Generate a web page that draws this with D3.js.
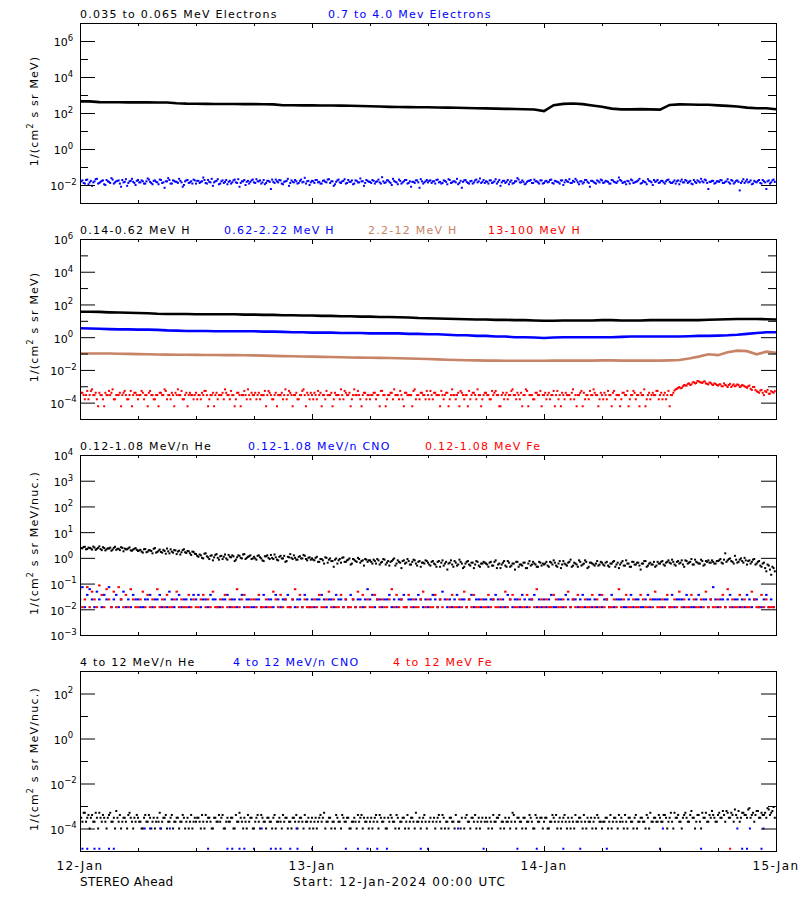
<!DOCTYPE html>
<html><head><meta charset="utf-8">
<script src="https://cdn.jsdelivr.net/npm/d3@7"></script>
<style>body{margin:0;background:#fff}svg{display:block}</style>
</head><body>
<svg id="chart" width="800" height="900"></svg>
<script>
// ================= DATA =================
const startDate = Date.UTC(2024, 0, 12);
const endDate = Date.UTC(2024, 0, 15);
const dateTickLabels = ["12-Jan", "13-Jan", "14-Jan", "15-Jan"];
const footerLeft = "STEREO Ahead";
const footerCenter = "Start: 12-Jan-2024 00:00 UTC";

const panel1Titles = ["0.035 to 0.065 MeV Electrons", "0.7 to 4.0 Mev Electrons"];
const panel2Titles = ["0.14-0.62 MeV H", "0.62-2.22 MeV H", "2.2-12 MeV H", "13-100 MeV H"];
const panel3Titles = ["0.12-1.08 MeV/n He", "0.12-1.08 MeV/n CNO", "0.12-1.08 MeV Fe"];
const panel4Titles = ["4 to 12 MeV/n He", "4 to 12 MeV/n CNO", "4 to 12 MeV Fe"];

// hourly values (73 points, 12-Jan 00:00 .. 15-Jan 00:00)
const electronsLow = [440,440,400,395,392,390,390,388,385,382,350,330,325,320,318,316,315,312,310,305,300,270,268,266,
  265,262,260,258,255,245,235,228,220,215,213,210,207,203,200,195,190,185,180,175,170,167,163,158,
  128,270,320,340,310,260,220,175,160,160,165,160,155,280,300,295,290,285,265,250,230,200,185,185,160];
const protonsLow = [36,36,35,33,32,31,30,29,27,26,26,26,25,25,25,25,25,24,24,23,23,22,22,21,21,20,20,19,19,18,
  18,17,17,16.5,16,15,14.5,14,13.5,13,12.5,12,12,11.5,11.5,11,11,10.5,10,10,10.5,10.5,10.5,10.5,11,11,10.5,
  10.5,10.5,11,11,11,11,11,11,11.5,12,12.5,13,13,13,12.5,12];
const protonsMid = [3.5,3.4,3.3,3.1,3.0,3.0,2.9,2.9,2.8,2.6,2.5,2.4,2.4,2.4,2.3,2.3,2.3,2.3,2.3,2.2,2.2,2.1,2.0,2.0,
  1.9,1.9,1.9,1.8,1.8,1.8,1.7,1.7,1.7,1.7,1.6,1.6,1.5,1.5,1.4,1.3,1.3,1.2,1.2,1.1,1.1,1.0,1.0,0.95,0.9,0.95,
  1.0,1.0,1.0,1.0,1.0,1.0,1.05,1.1,1.1,1.1,1.1,1.1,1.1,1.15,1.2,1.2,1.25,1.3,1.4,1.6,1.8,2.0,2.0];
const protonsHigh = [0.10,0.10,0.10,0.10,0.098,0.095,0.092,0.09,0.088,0.086,0.085,0.084,0.083,0.082,0.081,0.08,0.08,
  0.079,0.077,0.075,0.072,0.07,0.068,0.066,0.065,0.063,0.061,0.059,0.057,0.056,0.055,0.054,0.053,0.052,0.05,0.048,
  0.046,0.044,0.042,0.04,0.039,0.038,0.037,0.037,0.036,0.036,0.036,0.036,0.036,0.037,0.037,0.037,0.037,0.037,0.038,
  0.038,0.037,0.037,0.037,0.037,0.037,0.038,0.04,0.05,0.065,0.09,0.08,0.12,0.15,0.14,0.09,0.13,0.11];

// 15-minute values (288 points, on the quarter hour) and the samples between them (...Mid, at +7.5 min)
const electronsHighUnit = 1e-3;
const electronsHigh = [
 15,18,12,20,14,9,16,22,13,17,11,19,15,24,12,16,18,8,14,21,13,17,15,10,
 19,14,16,12,23,15,11,18,14,20,13,7,16,19,12,17,15,22,14,10,18,13,16,20,
 12,17,15,26,13,19,14,9,16,21,12,18,15,11,17,14,20,13,8,16,19,15,12,18,
 14,21,16,12,19,13,17,6,15,20,14,18,11,16,22,13,15,19,12,17,14,25,16,10,
 17,13,19,15,12,18,14,21,16,9,15,20,13,17,12,19,15,11,18,14,23,16,13,17,
 15,19,12,16,14,27,13,18,15,10,17,14,20,12,16,19,13,8,15,18,14,21,12,16,
 14,18,16,12,20,15,13,17,11,19,14,16,22,13,7,18,15,12,17,14,20,16,13,19,
 16,12,18,14,21,15,9,17,13,19,15,12,16,24,14,18,11,15,17,13,20,16,12,18,
 13,17,15,20,12,16,14,18,10,19,15,13,17,22,14,16,12,19,15,8,17,13,18,14,
 18,14,16,12,19,15,13,26,17,14,11,16,20,13,15,18,12,17,14,21,16,10,15,19,
 14,17,12,19,15,13,18,16,11,20,14,17,15,12,19,13,16,22,14,18,6,15,17,13,
 16,19,13,15,21,12,17,14,18,5,16,13,20,15,11,17,14,19,12,16,6,18,14,20];
const electronsHighMid = [
 16,13,19,11,17,14,21,12,15,18,10,16,13,20,14,17,12,19,15,9,16,22,13,17,
 14,18,12,16,20,13,17,15,11,19,14,16,24,12,18,15,13,17,8,16,19,14,12,18,
 17,13,16,19,12,15,22,14,17,11,16,13,19,15,12,18,14,21,13,16,10,17,15,20,
 13,16,18,14,11,17,15,20,13,16,19,12,15,17,9,18,14,16,13,20,15,12,17,14,
 16,19,14,12,17,15,20,13,16,11,18,14,16,21,13,15,18,12,17,14,16,9,19,15,
 13,17,15,20,12,16,14,18,13,22,15,11,17,14,19,12,16,15,13,18,7,16,14,19,
 17,13,16,19,14,12,18,15,21,13,16,14,11,17,15,19,13,16,12,18,14,23,15,13,
 15,18,13,16,12,19,14,17,15,11,18,13,16,20,14,15,12,17,19,13,16,14,18,12,
 16,14,19,13,17,15,12,18,14,16,21,13,15,18,11,16,14,19,13,17,15,12,16,20,
 13,17,15,12,18,14,16,19,13,15,17,12,18,14,16,22,13,15,11,17,14,19,16,13,
 17,14,16,20,13,15,12,18,16,14,19,13,17,11,15,18,14,16,20,13,15,17,12,16,
 15,18,13,16,14,19,12,17,15,13,21,16,14,18,12,15,17,13,19,14,16,12,18,15];

const protonsVeryHighUnit = 1e-5;
const protonsVeryHigh = [
 29,40,16,52,29,65,29,16,40,29,6,29,52,40,16,29,29,6,40,29,16,52,29,40,
 16,29,40,29,6,52,29,16,29,40,29,65,16,29,40,6,29,29,52,16,40,29,29,16,
 40,29,16,29,52,6,29,40,29,16,29,40,65,29,16,29,6,40,29,29,52,16,29,40,
 29,16,40,29,29,6,52,29,16,40,29,29,16,65,29,40,6,29,16,29,52,29,40,16,
 29,40,16,29,6,29,52,29,40,16,29,29,65,16,40,29,6,29,29,52,16,29,40,29,
 16,29,40,29,6,52,29,16,29,40,65,29,16,29,6,40,29,29,52,16,29,40,29,16,
 29,52,16,40,29,6,29,29,40,16,65,29,29,6,40,16,29,52,29,40,16,29,6,29,
 40,29,16,29,52,29,6,40,29,16,29,65,29,40,16,6,29,52,29,29,16,40,29,6,
 29,16,40,29,52,29,16,6,29,40,29,16,65,29,29,40,6,16,29,52,29,40,29,16,
 29,40,16,29,6,52,29,29,16,40,29,6,29,52,16,29,40,29,6,29,16,40,29,52,
 29,16,40,29,6,29,55,70,90,80,120,110,150,130,180,160,200,170,190,150,130,160,120,140,
 110,130,100,120,90,140,110,100,130,90,120,100,80,110,60,90,50,40,60,29,45,35,50,40];
const protonsVeryHighMid = [
 40,29,29,16,52,29,40,6,29,16,40,29,29,65,16,29,40,29,52,16,29,6,40,29,
 29,52,16,29,40,29,16,29,6,40,29,52,29,16,29,40,65,29,16,29,6,40,29,29,
 16,29,40,52,29,16,29,6,40,29,29,16,40,29,52,29,16,40,6,29,29,65,16,29,
 40,29,16,29,52,29,40,16,29,6,29,40,29,16,52,29,29,40,16,29,65,6,29,40,
 16,29,52,40,29,16,29,29,6,40,29,16,29,52,29,40,16,65,29,29,6,40,16,29,
 29,40,16,29,52,29,6,29,40,16,29,29,52,16,40,29,29,6,65,29,16,40,29,52,
 16,29,40,29,29,52,16,40,6,29,29,16,40,52,29,29,6,16,40,29,65,29,16,40,
 29,16,52,40,29,6,29,16,40,29,52,29,16,29,40,29,65,6,29,16,40,29,52,29,
 40,29,16,29,6,52,29,40,16,29,29,40,16,6,29,52,40,29,16,29,65,29,6,40,
 16,29,52,29,40,16,29,6,40,29,52,16,29,40,29,6,29,65,16,40,29,29,52,16,
 40,29,16,52,29,40,65,80,75,100,110,140,120,170,150,210,180,160,200,140,170,130,150,120,
 130,100,150,110,120,90,130,110,120,100,110,90,100,70,90,60,45,55,40,50,60,35,45,50];

const heliumLowUnit = 1e-2;
const heliumLow = [
 260,235,270,220,245,210,250,225,280,200,240,215,230,190,245,205,225,260,180,215,235,195,210,240,
 185,205,160,220,175,195,150,240,170,210,160,185,230,150,175,200,140,190,165,215,155,180,130,170,
 140,110,125,95,150,105,120,80,130,100,115,90,135,85,110,125,75,105,120,95,140,100,115,90,
 110,85,125,95,75,115,100,130,90,105,80,120,95,70,110,140,90,100,85,115,95,120,80,105,
 95,80,110,70,90,60,100,85,75,45,95,80,65,105,70,85,55,90,75,100,65,80,90,70,
 80,60,75,90,55,70,85,65,50,75,95,60,70,40,80,65,75,55,85,60,70,45,65,80,
 65,50,75,55,70,45,80,60,35,65,55,75,50,85,60,45,70,55,65,40,75,50,60,70,
 60,45,70,50,80,55,40,65,50,75,45,60,35,70,55,50,65,40,75,55,60,45,70,50,
 55,70,45,65,80,50,60,40,75,55,65,85,50,60,45,70,55,80,40,65,60,50,75,55,
 65,50,70,45,60,75,55,40,65,50,80,60,45,70,55,65,35,60,75,50,65,55,45,70,
 60,75,50,70,65,85,55,70,60,80,45,75,65,90,55,70,60,85,50,75,80,65,70,60,
 75,90,60,150,80,95,70,120,65,85,75,100,55,80,70,90,60,75,45,65,30,50,22,40];
const heliumLowMid = [
 240,265,215,250,230,275,205,245,220,260,195,235,250,210,270,225,200,245,230,215,255,190,225,205,
 195,175,215,165,200,185,225,160,190,170,205,145,180,215,160,195,175,135,200,165,185,150,175,145,
 120,135,100,145,115,90,125,105,140,85,120,110,95,130,105,115,85,125,100,135,90,110,125,95,
 95,120,105,80,115,125,90,100,135,85,110,95,120,75,105,100,125,85,110,95,130,90,100,85,
 85,100,70,90,80,105,65,95,75,85,60,90,100,70,80,95,60,85,70,90,75,50,85,80,
 70,85,60,80,65,90,55,75,70,85,50,80,65,75,60,90,55,70,80,50,75,65,60,75,
 55,70,60,45,75,65,50,70,60,80,45,65,55,70,40,60,75,50,65,55,70,45,60,65,
 55,65,50,70,40,60,55,75,45,65,50,60,70,45,55,65,40,60,50,70,55,45,65,60,
 60,50,70,55,65,45,75,55,60,50,70,45,65,55,80,50,60,70,45,65,55,60,50,70,
 55,65,50,60,70,45,65,55,75,50,60,45,70,55,65,50,60,75,45,60,55,70,50,60,
 70,55,65,80,60,70,50,75,65,55,80,60,70,55,85,65,60,75,55,70,65,80,60,75,
 80,65,85,70,90,75,60,85,70,95,65,80,75,60,85,55,70,50,60,40,55,35,45,30];

const cnoLowUnit = 0.0121;
const cnoLowCounts = [
 2,6,1,3,5,2,1,4,2,1,3,2,6,1,2,3,1,2,4,1,2,1,3,2,
 2,1,1,2,2,3,1,2,2,3,1,2,1,4,2,1,2,3,1,2,2,1,2,3,
 2,3,1,2,2,1,3,2,2,1,1,2,2,3,1,2,2,1,2,3,1,2,2,1,
 1,2,2,1,3,1,2,2,1,3,2,1,2,2,3,1,2,1,2,2,1,3,2,1,
 2,1,2,2,3,2,1,2,2,1,3,2,2,1,2,1,3,2,1,2,2,1,2,5,
 2,3,1,2,2,1,2,2,3,1,2,1,2,2,3,1,2,2,1,2,3,2,1,2,
 1,2,3,2,1,2,4,2,1,2,1,2,3,1,2,2,1,2,3,1,2,2,1,2,
 2,1,2,2,3,2,1,2,1,3,2,1,2,2,1,3,2,1,2,2,3,1,2,1,
 2,1,2,3,1,1,2,2,1,3,2,1,2,2,1,2,3,1,2,2,1,2,1,3,
 1,2,2,1,3,1,2,2,2,1,1,2,3,1,2,2,1,1,2,3,1,2,2,2,
 2,1,2,2,1,3,1,2,2,2,1,3,2,1,1,2,3,1,2,2,1,2,6,2,
 1,2,2,1,2,3,1,2,2,1,2,1,3,2,1,2,2,1,1,2,3,1,2,1];

const feLowUnit = 0.0121;
const feLowCounts = [
 5,1,2,6,1,4,2,1,7,3,1,5,2,1,4,1,6,2,1,3,1,5,2,1,
 1,2,4,1,3,1,2,1,5,1,2,1,3,1,1,2,4,1,2,1,1,3,1,2,
 1,1,2,3,1,2,1,4,1,1,2,1,3,1,2,1,1,5,1,2,3,1,1,2,
 2,1,3,1,1,2,1,1,4,2,1,3,1,2,1,1,2,5,1,3,1,2,1,1,
 1,2,1,3,1,1,2,4,1,2,1,1,3,1,2,1,1,2,1,4,1,3,1,2,
 1,1,3,2,1,2,1,1,2,5,1,3,1,2,1,1,3,1,2,1,1,2,4,1,
 2,1,1,3,1,2,1,0,2,1,3,1,1,2,1,4,1,2,1,3,1,1,2,1,
 1,3,1,2,1,1,2,1,4,1,2,3,1,1,2,1,1,3,1,2,1,5,1,2,
 1,2,1,1,3,2,1,1,2,1,4,1,2,1,3,1,1,2,1,1,3,1,2,1,
 3,1,2,1,1,2,1,5,1,2,3,1,1,2,1,1,3,2,1,1,2,1,4,1,
 1,2,1,3,1,1,2,1,4,1,2,1,1,3,2,1,1,2,1,4,1,2,1,1,
 2,1,3,1,5,1,2,1,1,3,1,2,1,1,4,2,1,1,3,1,2,1,1,1];

const heliumHighUnit = 1e-4;
const heliumHighCounts = [
 4,2,5,3,1,4,2,3,5,2,3,1,4,2,3,6,2,1,3,2,4,3,1,2,
 3,2,1,4,2,3,2,1,3,5,2,3,1,2,4,2,3,1,2,3,2,1,4,2,
 2,3,1,2,4,3,2,1,3,2,2,4,1,3,2,3,1,2,5,2,3,1,2,3,
 1,3,2,4,2,1,3,2,3,1,2,2,4,3,1,2,3,2,1,3,2,4,2,1,
 3,2,1,3,2,5,2,3,1,2,4,2,1,3,2,3,1,2,2,4,3,1,2,3,
 2,1,3,2,4,2,3,1,2,3,2,4,1,2,3,2,1,3,2,5,2,1,3,2,
 0,3,2,1,3,2,4,1,2,3,2,1,0,2,3,1,4,2,3,2,1,3,2,0,
 3,1,2,4,2,3,1,2,3,2,1,5,2,3,2,1,3,2,4,2,1,3,2,3,
 2,3,1,2,3,4,2,1,3,2,3,1,2,4,2,3,1,2,3,2,1,3,4,2,
 1,2,3,2,1,3,2,4,3,1,2,3,2,1,4,2,3,2,1,3,5,2,3,2,
 3,2,4,1,3,2,5,3,2,1,4,3,2,6,3,2,4,1,3,5,2,3,4,2,
 4,3,6,2,5,3,4,7,3,2,5,4,3,8,4,2,6,3,5,4,3,7,5,9];
const heliumHighCountsMid = [
 3,5,2,4,3,2,5,1,3,4,2,3,5,2,1,3,4,2,3,1,5,2,3,4,
 2,1,3,2,4,1,3,2,2,1,3,4,2,3,1,2,3,2,4,1,3,2,1,3,
 3,2,4,1,2,3,1,3,2,4,3,1,2,2,3,1,4,2,3,1,2,4,3,1,
 2,4,1,3,2,3,2,1,4,2,3,1,2,3,2,1,3,4,2,3,1,2,3,2,
 1,3,2,4,3,1,2,3,2,1,3,2,4,2,3,1,2,3,1,2,4,3,2,1,
 3,2,4,1,3,2,1,3,4,2,1,3,2,3,1,4,2,3,1,2,3,2,4,1,
 2,0,3,2,4,1,3,2,1,3,2,4,2,1,0,3,2,1,3,4,2,1,3,2,
 2,3,1,2,3,4,2,1,2,3,2,4,1,3,2,3,1,2,3,1,4,2,3,1,
 3,1,2,4,2,1,3,2,4,1,2,3,1,2,3,2,4,1,2,3,2,1,3,2,
 2,3,1,4,2,3,1,2,2,4,1,3,2,3,1,2,3,2,4,1,2,3,2,4,
 2,4,3,2,5,1,3,4,2,3,5,2,4,3,1,4,2,5,3,2,4,6,3,2,
 5,3,4,6,3,5,2,4,6,3,5,4,7,3,5,4,6,3,4,5,8,4,6,3];

// sparse series: hours after start, value
const cnoHighHours = [0.25,0.75,1.5,2,3,3.5,13.25,15.25,15.75,16.5,17,18,19.75,20.25,20.75,21.75,22.5,24,27.5,28.75,
  29.75,30.75,31.75,35.25,36,41.75,45.25,47.25,50,51.75,54.5,60,64.25,68.5,69,70.5,
  6.7,7.25,8.3,9.3,18.8,22.4,39.1,60.3,68,69.3,70.7];
const cnoHighValues = [1.26e-5,1.26e-5,1.26e-5,1.26e-5,1.26e-5,1.26e-5,1.26e-5,1.26e-5,1.26e-5,1.26e-5,1.26e-5,1.26e-5,
  1.26e-5,1.26e-5,1.26e-5,1.26e-5,1.26e-5,1.26e-5,1.26e-5,1.26e-5,1.26e-5,1.26e-5,1.26e-5,1.26e-5,1.26e-5,1.26e-5,
  1.26e-5,1.26e-5,1.26e-5,1.26e-5,1.26e-5,1.26e-5,1.26e-5,1.26e-5,1.26e-5,1.26e-5,
  1e-4,1e-4,1e-4,1e-4,1e-4,1e-4,1e-4,1e-4,1e-4,1e-4,1e-4];
const feHighHours = [67.25];
const feHighValues = [1.26e-5];

// ================= DRAWING =================
const BLACK = "#000000", BLUE = "#0000ff", TAN = "#c88466", RED = "#ff0000";
const FONT = "'DejaVu Sans', Verdana, sans-serif";
const X0 = 80, X1 = 776, PH = 180;
const svg = d3.select("#chart").style("font-family", FONT);
svg.append("rect").attr("width", 800).attr("height", 900).attr("fill", "#fff");

const x = d3.scaleUtc().domain([new Date(startDate), new Date(endDate)]).range([X0, X1]);
const hourTime = h => new Date(startDate + h * 3600e3);
const quarterTime = (i, off) => new Date(startDate + (i + off) * 900e3);
const dayTicks = d3.utcDay.range(new Date(startDate), new Date(endDate + 1));
const sixHourTicks = d3.utcHour.every(6).range(new Date(startDate), new Date(endDate + 1))
  .filter(d => d.getUTCHours() !== 0);

const fromSeries = (vals, unit, off = 0) => vals.map((v, i) => ({ t: quarterTime(i, off), v: v * unit }));
const fromSparse = (hours, vals) => hours.map((h, i) => ({ t: hourTime(h), v: vals[i] }));

const panels = [
  { top: 23, domain: [1e-3, 1e7], major: [-2, 0, 2, 4, 6], minor: [-1, 1, 3, 5], labels: [6, 4, 2, 0, -2],
    ytitle: "MeV", titles: panel1Titles, titleX: [80, 328], colors: [BLACK, BLUE],
    series: [
      { type: "line", values: electronsLow, color: BLACK },
      { type: "dots", points: fromSeries(electronsHigh, electronsHighUnit)
          .concat(fromSeries(electronsHighMid, electronsHighUnit, 0.5)), color: BLUE, w: 2 }
    ] },
  { top: 239, domain: [1e-5, 1e6], major: [6, 4, 2, 0, -2, -4], minor: [5, 3, 1, -1, -3], labels: [6, 4, 2, 0, -2, -4],
    ytitle: "MeV", titles: panel2Titles, titleX: [80, 224, 368, 488], colors: [BLACK, BLUE, TAN, RED],
    series: [
      { type: "line", values: protonsLow, color: BLACK },
      { type: "line", values: protonsMid, color: BLUE },
      { type: "line", values: protonsHigh, color: TAN },
      { type: "dots", points: fromSeries(protonsVeryHigh, protonsVeryHighUnit)
          .concat(fromSeries(protonsVeryHighMid, protonsVeryHighUnit, 0.5)), color: RED, w: 2 }
    ] },
  { top: 455, domain: [1e-3, 1e4], major: [-2, -1, 0, 1, 2, 3], minor: [], labels: [4, 3, 2, 1, 0, -1, -2, -3],
    ytitle: "MeV/nuc.", titles: panel3Titles, titleX: [80, 248, 425], colors: [BLACK, BLUE, RED],
    series: [
      { type: "dots", points: fromSeries(heliumLow, heliumLowUnit)
          .concat(fromSeries(heliumLowMid, heliumLowUnit, 0.5)), color: BLACK, w: 2 },
      { type: "dots", points: fromSeries(cnoLowCounts, cnoLowUnit), color: BLUE, w: 2.5 },
      { type: "dots", points: fromSeries(feLowCounts, feLowUnit), color: RED, w: 2.5 }
    ] },
  { top: 671, domain: [1e-5, 1e3], major: [2, 0, -2, -4], minor: [1, -1, -3], labels: [2, 0, -2, -4],
    ytitle: "MeV/nuc.", titles: panel4Titles, titleX: [80, 233, 393], colors: [BLACK, BLUE, RED],
    series: [
      { type: "dots", points: fromSeries(heliumHighCounts, heliumHighUnit)
          .concat(fromSeries(heliumHighCountsMid, heliumHighUnit, 0.5)), color: BLACK, w: 2 },
      { type: "dots", points: fromSparse(cnoHighHours, cnoHighValues), color: BLUE, w: 2 },
      { type: "dots", points: fromSparse(feHighHours, feHighValues), color: RED, w: 2 }
    ] }
];

const noDomain = a => a.select(".domain").remove();

panels.forEach((p, pi) => {
  const top = p.top, bottom = top + PH;
  const y = d3.scaleLog().domain(p.domain).range([bottom, top]);
  const g = svg.append("g");

  const clipId = "clip" + pi;
  svg.append("clipPath").attr("id", clipId).append("rect")
    .attr("x", X0).attr("y", top).attr("width", X1 - X0 + 1).attr("height", PH + 1);
  const dg = g.append("g").attr("clip-path", `url(#${clipId})`);

  p.series.forEach(s => {
    if (s.type === "line") {
      dg.append("path").datum(s.values)
        .attr("d", d3.line().x((v, i) => x(hourTime(i))).y(v => y(v)))
        .attr("fill", "none").attr("stroke", s.color).attr("stroke-width", 2.6);
    } else {
      dg.append("g").selectAll("rect").data(s.points.filter(d => d.v > 0)).join("rect")
        .attr("x", d => x(d.t) - s.w / 2).attr("y", d => y(d.v) - 1)
        .attr("width", s.w).attr("height", 2).attr("fill", s.color);
    }
  });

  // frame
  g.append("rect").attr("x", X0 + 0.5).attr("y", top + 0.5).attr("width", X1 - X0).attr("height", PH)
    .attr("fill", "none").attr("stroke", BLACK).attr("stroke-width", 1);

  // y ticks
  const majVals = p.major.map(e => Math.pow(10, e));
  const minVals = p.minor.map(e => Math.pow(10, e));
  g.append("g").attr("transform", `translate(${X0},0)`)
    .call(d3.axisLeft(y).tickValues(majVals).tickSize(-15).tickFormat("")).call(noDomain);
  g.append("g").attr("transform", `translate(${X1},0)`)
    .call(d3.axisRight(y).tickValues(majVals).tickSize(-15).tickFormat("")).call(noDomain);
  if (minVals.length) {
    g.append("g").attr("transform", `translate(${X0},0)`)
      .call(d3.axisLeft(y).tickValues(minVals).tickSize(-8).tickFormat("")).call(noDomain);
    g.append("g").attr("transform", `translate(${X1},0)`)
      .call(d3.axisRight(y).tickValues(minVals).tickSize(-8).tickFormat("")).call(noDomain);
  }
  // x ticks
  g.append("g").attr("transform", `translate(0,${top})`)
    .call(d3.axisTop(x).tickValues(dayTicks).tickSize(-5).tickFormat("")).call(noDomain);
  g.append("g").attr("transform", `translate(0,${top})`)
    .call(d3.axisTop(x).tickValues(sixHourTicks).tickSize(-3).tickFormat("")).call(noDomain);
  g.append("g").attr("transform", `translate(0,${bottom})`)
    .call(d3.axisBottom(x).tickValues(dayTicks).tickSize(-5).tickFormat("")).call(noDomain);
  g.append("g").attr("transform", `translate(0,${bottom})`)
    .call(d3.axisBottom(x).tickValues(sixHourTicks).tickSize(-3).tickFormat("")).call(noDomain);

  // y tick labels
  p.labels.forEach(e => {
    const t = g.append("text").attr("x", 63.5).attr("y", y(Math.pow(10, e)) + 5.4)
      .attr("text-anchor", "middle").attr("font-size", 11).attr("fill", BLACK);
    t.append("tspan").text("10");
    t.append("tspan").attr("dy", -5.6).attr("font-size", 8.5).text(e < 0 ? "\u2212" + (-e) : String(e));
  });

  // y axis title
  const yt = g.append("text").attr("transform", `translate(38,${top + PH / 2 - 2}) rotate(-90)`)
    .attr("text-anchor", "middle").attr("font-size", 11).attr("letter-spacing", 1.2).attr("fill", BLACK);
  yt.append("tspan").text("1/(cm");
  yt.append("tspan").attr("dy", -5).attr("font-size", 8).text("2");
  yt.append("tspan").attr("dy", 5).text(" s sr " + p.ytitle + ")");

  // panel titles
  p.titles.forEach((tt, i) => {
    g.append("text").attr("x", p.titleX[i]).attr("y", top - 5)
      .attr("font-size", 11).attr("letter-spacing", 1.25).attr("fill", p.colors[i]).text(tt);
  });
});

// date labels & footer
svg.append("g").selectAll("text").data(dayTicks).join("text")
  .attr("x", d => x(d)).attr("y", 870).attr("text-anchor", "middle")
  .attr("font-size", 12).attr("letter-spacing", 1.4).attr("fill", BLACK)
  .text((d, i) => dateTickLabels[i]);
svg.append("text").attr("x", 80).attr("y", 886).attr("font-size", 12).attr("letter-spacing", 0.3)
  .attr("fill", BLACK).text(footerLeft);
svg.append("text").attr("x", 293).attr("y", 886).attr("font-size", 12).attr("letter-spacing", 1.3)
  .attr("fill", BLACK).text(footerCenter);
</script>
</body></html>
